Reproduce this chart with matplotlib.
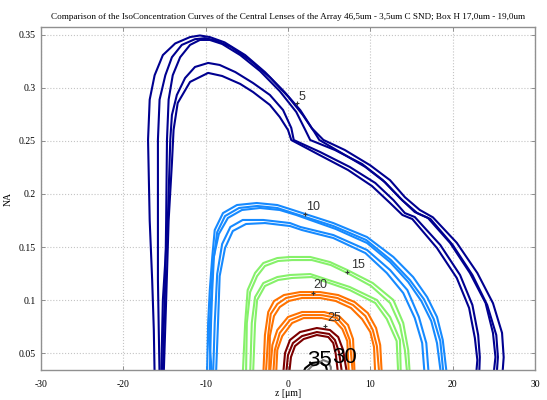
import matplotlib
matplotlib.use("Agg")
import matplotlib.pyplot as plt

title = ("Comparison of the IsoConcentration Curves of the Central Lenses of the Array "
         "46,5um - 3,5um C SND; Box H 17,0um - 19,0um")
x_ticks = [-30, -20, -10, 0, 10, 20, 30]
x_tick_labels = ["-30", "-20", "-10", "0", "10", "20", "30"]
y_ticks = [0.05, 0.1, 0.15, 0.2, 0.25, 0.3, 0.35]
y_tick_labels = ["0.05", "0.1", "0.15", "0.2", "0.25", "0.3", "0.35"]

# iso-concentration curves, (z [um], NA)
# level 5
lvl5_a = [(-16.2, 0.029), (-16.3, 0.072), (-16.5, 0.119), (-16.8, 0.175), (-17.0, 0.251),
          (-16.8, 0.289), (-16.2, 0.312), (-15.2, 0.331), (-13.7, 0.342), (-11.9, 0.348),
          (-10.7, 0.3495), (-9.5, 0.348), (-7.7, 0.343), (-5.2, 0.331), (-2.8, 0.315),
          (-0.4, 0.296), (1.5, 0.279), (2.9, 0.262), (4.3, 0.251), (6.9, 0.2415),
          (10.0, 0.227), (12.4, 0.213), (14.2, 0.197), (16.0, 0.185), (17.6, 0.178),
          (20.5, 0.154), (23.0, 0.1255), (24.9, 0.097), (26.0, 0.069), (26.2, 0.046),
          (26.0, 0.025)]
lvl5_b = [(-15.6, 0.029), (-15.7, 0.072), (-15.8, 0.119), (-15.8, 0.175), (-15.8, 0.251),
          (-15.6, 0.289), (-14.9, 0.312), (-14.1, 0.329), (-12.9, 0.3406), (-11.3, 0.346),
          (-10.1, 0.347), (-8.9, 0.345), (-7.0, 0.339), (-4.6, 0.326), (-2.2, 0.310),
          (0.0, 0.292), (1.8, 0.2745), (3.2, 0.2585), (3.8, 0.251), (6.3, 0.2396),
          (9.4, 0.2255), (11.8, 0.211), (13.9, 0.194), (15.7, 0.182), (17.3, 0.1764),
          (20.0, 0.152), (22.4, 0.1236), (24.2, 0.0953), (25.3, 0.067), (25.5, 0.0462),
          (25.3, 0.0245)]
lvl5_c = [(-15.2, 0.029), (-15.1, 0.072), (-14.9, 0.119), (-14.8, 0.175), (-14.7, 0.251),
          (-14.5, 0.289), (-14.0, 0.312), (-13.1, 0.329), (-11.9, 0.3406), (-10.7, 0.3453),
          (-9.5, 0.3453), (-8.0, 0.3415), (-5.8, 0.331), (-3.4, 0.316), (-1.0, 0.297),
          (1.0, 0.2774), (2.1, 0.2604), (2.7, 0.2509), (5.7, 0.2415), (9.0, 0.2283),
          (11.5, 0.2132), (13.6, 0.1962), (15.4, 0.183), (17.0, 0.1774), (19.7, 0.1538),
          (22.1, 0.1255), (24.0, 0.0972), (24.9, 0.0689), (25.2, 0.0462), (24.9, 0.0245)]
lvl5_d = [(-15.4, 0.029), (-15.2, 0.100), (-14.6, 0.175), (-14.3, 0.251), (-14.1, 0.2745),
          (-13.5, 0.2934), (-12.5, 0.3094), (-11.3, 0.3198), (-9.7, 0.3236), (-8.3, 0.3217),
          (-6.4, 0.315), (-4.25, 0.3047), (-2.2, 0.2934), (-0.6, 0.2792), (0.4, 0.2623),
          (0.7, 0.2509), (3.9, 0.2396), (7.5, 0.2255), (10.6, 0.2104), (12.8, 0.1943),
          (14.2, 0.182), (15.4, 0.1783), (18.5, 0.1519), (20.9, 0.1236), (22.4, 0.0953),
          (23.1, 0.067), (23.3, 0.0462), (23.2, 0.0245)]
lvl5_e = [(-15.1, 0.029), (-14.8, 0.100), (-14.5, 0.175), (-14.1, 0.2292), (-13.9, 0.2604),
          (-13.4, 0.2858), (-11.9, 0.3057), (-9.7, 0.3142), (-8.0, 0.3113), (-5.8, 0.3038),
          (-4.25, 0.2962), (-2.2, 0.284), (-1.0, 0.2726), (0.0, 0.2604), (0.4, 0.2509),
          (3.6, 0.2377), (7.3, 0.2226), (10.2, 0.2075), (12.4, 0.1915), (13.9, 0.1802),
          (15.1, 0.1764), (18.1, 0.149), (20.5, 0.1208), (22.0, 0.0925), (22.7, 0.0642),
          (23.0, 0.0434), (22.8, 0.0245)]

# level 10
lvl10_a = [(-9.84, 0.029), (-9.7, 0.0783), (-9.5, 0.1094), (-9.2, 0.1406), (-8.9, 0.166),
           (-7.9, 0.182), (-6.2, 0.1896), (-3.8, 0.1915), (-1.3, 0.1896), (0.6, 0.1849),
           (2.1, 0.1811), (5.5, 0.1726), (9.6, 0.1594), (12.8, 0.1406), (15.2, 0.1217),
           (16.9, 0.1028), (18.1, 0.084), (18.8, 0.0623), (19.3, 0.029)]
lvl10_b = [(-9.5, 0.029), (-9.35, 0.0783), (-9.2, 0.1094), (-9.0, 0.1406), (-8.6, 0.164),
           (-7.65, 0.1792), (-5.95, 0.1868), (-3.75, 0.1887), (-1.3, 0.1868), (0.6, 0.182),
           (2.1, 0.1783), (5.5, 0.1698), (9.5, 0.1566), (12.5, 0.1377), (14.8, 0.1189),
           (16.5, 0.1009), (17.7, 0.0821), (18.5, 0.0613), (18.9, 0.029)]
lvl10_c = [(-9.2, 0.029), (-9.6, 0.0623), (-9.35, 0.100), (-9.1, 0.1377), (-8.4, 0.1623),
           (-7.3, 0.1774), (-5.6, 0.1849), (-3.4, 0.1868), (-1.0, 0.1849), (1.0, 0.1802),
           (2.7, 0.1755), (5.8, 0.167), (9.6, 0.1538), (12.4, 0.1358), (14.6, 0.117),
           (16.2, 0.099), (17.4, 0.0802), (18.1, 0.0594), (18.6, 0.029)]
lvl10_d = [(-9.1, 0.029), (-8.9, 0.0783), (-8.6, 0.1245), (-8.0, 0.1528), (-7.0, 0.1689),
           (-5.5, 0.1755), (-3.0, 0.1755), (0.24, 0.1726), (1.5, 0.1689), (5.5, 0.1613),
           (9.6, 0.1472), (12.4, 0.1283), (14.5, 0.1094), (15.9, 0.084), (16.8, 0.0594),
           (17.1, 0.029)]
lvl10_e = [(-8.75, 0.029), (-8.5, 0.0783), (-8.3, 0.1226), (-7.65, 0.149), (-6.7, 0.1651),
           (-5.1, 0.1717), (-2.8, 0.1726), (0.24, 0.1698), (1.7, 0.166), (5.5, 0.1585),
           (9.4, 0.1443), (12.0, 0.1255), (14.0, 0.1066), (15.4, 0.083), (16.3, 0.0594),
           (16.6, 0.029)]

# level 15
lvl15_a = [(-5.5, 0.029), (-5.2, 0.0783), (-4.9, 0.1094), (-4.0, 0.1255), (-3.0, 0.1349),
           (-1.3, 0.1396), (0.24, 0.1406), (2.7, 0.1406), (5.1, 0.1358), (7.2, 0.1283),
           (10.3, 0.116), (12.8, 0.100), (14.0, 0.0783), (14.6, 0.0528), (14.8, 0.029)]
lvl15_b = [(-5.1, 0.029), (-5.0, 0.0783), (-4.6, 0.1075), (-3.75, 0.1226), (-2.8, 0.1321),
           (-1.2, 0.1368), (0.5, 0.1377), (2.9, 0.1377), (5.2, 0.133), (7.2, 0.1255),
           (10.1, 0.1132), (12.4, 0.0972), (13.6, 0.0764), (14.2, 0.0528), (14.5, 0.029)]
lvl15_c = [(-4.6, 0.029), (-4.4, 0.0783), (-4.0, 0.1028), (-3.0, 0.116), (-1.3, 0.1217),
           (0.24, 0.1236), (2.7, 0.1245), (7.5, 0.1123), (10.8, 0.100), (12.4, 0.084),
           (13.6, 0.0623), (13.7, 0.029)]
lvl15_d = [(-4.25, 0.029), (-4.0, 0.0783), (-3.75, 0.100), (-2.8, 0.1132), (-1.2, 0.1189),
           (0.5, 0.1208), (2.9, 0.1217), (7.5, 0.1094), (10.6, 0.0972), (12.0, 0.0821),
           (13.2, 0.0613), (13.4, 0.029)]

# level 20
lvl20_a = [(-3.0, 0.029), (-2.8, 0.067), (-2.4, 0.0887), (-1.7, 0.099), (-0.5, 0.1047),
           (1.46, 0.1075), (3.9, 0.1075), (6.1, 0.1047), (8.1, 0.0981), (9.7, 0.0877),
           (10.7, 0.0736), (11.2, 0.0575), (11.4, 0.029)]
lvl20_b = [(-2.7, 0.029), (-2.4, 0.067), (-2.1, 0.0868), (-1.3, 0.0962), (-0.24, 0.1019),
           (1.46, 0.1047), (3.9, 0.1047), (6.0, 0.1019), (7.9, 0.0953), (9.4, 0.0849),
           (10.3, 0.0717), (10.8, 0.0566), (11.1, 0.029)]
lvl20_c = [(-2.3, 0.029), (-2.2, 0.066), (-1.7, 0.0849), (-1.0, 0.0934), (0.1, 0.0991),
           (1.7, 0.1019), (3.9, 0.1019), (5.8, 0.0991), (7.65, 0.0925), (9.0, 0.082),
           (10.0, 0.0698), (10.45, 0.0557), (10.6, 0.029)]

# level 25
lvl25_a = [(-2.2, 0.029), (-1.9, 0.0575), (-1.3, 0.0717), (0.0, 0.084), (1.7, 0.0887),
           (4.4, 0.0887), (6.2, 0.0849), (7.3, 0.0764), (7.9, 0.0632), (8.1, 0.029)]
lvl25_b = [(-1.8, 0.029), (-1.6, 0.0528), (-1.0, 0.0689), (0.24, 0.0811), (1.8, 0.0858),
           (4.25, 0.0858), (5.95, 0.083), (6.9, 0.0745), (7.5, 0.0623), (7.9, 0.029)]
lvl25_c = [(-1.45, 0.029), (-1.3, 0.0528), (-0.7, 0.066), (0.5, 0.0783), (1.9, 0.083),
           (4.1, 0.083), (5.7, 0.0802), (6.6, 0.0726), (7.2, 0.0613), (7.4, 0.029)]

# level 30
lvl30_a = [(-0.6, 0.029), (-0.36, 0.050), (0.24, 0.0623), (1.46, 0.0698), (3.5, 0.0736),
           (5.1, 0.0717), (6.1, 0.0651), (6.7, 0.0528), (7.2, 0.029)]
lvl30_b = [(-0.24, 0.029), (0.0, 0.0481), (0.6, 0.0594), (1.7, 0.066), (3.5, 0.0698),
           (5.0, 0.068), (5.7, 0.0623), (6.2, 0.0509), (6.6, 0.029)]
lvl30_c = [(0.12, 0.029), (0.36, 0.0462), (0.85, 0.0566), (1.9, 0.0632), (3.5, 0.067),
           (4.9, 0.0651), (5.5, 0.0594), (5.8, 0.049), (6.1, 0.029)]

# level 35 (small arcs at the bottom)
lvl35_a = [(1.7, 0.029), (2.1, 0.0358), (2.9, 0.0406), (3.9, 0.0415), (4.6, 0.0377),
           (4.9, 0.029)]
lvl35_b = [(2.2, 0.0321), (2.9, 0.0377), (3.6, 0.0396), (4.25, 0.0434), (4.9, 0.0415),
           (5.2, 0.0368), (5.2, 0.029)]

navy, azure, green, orange, darkred = "#000090", "#168aff", "#86f16a", "#ff7200", "#7c0000"

curves = [
    (lvl5_a, navy), (lvl5_b, navy), (lvl5_c, navy), (lvl5_d, navy), (lvl5_e, navy),
    (lvl10_a, azure), (lvl10_b, azure), (lvl10_c, azure), (lvl10_d, azure), (lvl10_e, azure),
    (lvl15_a, green), (lvl15_b, green), (lvl15_c, green), (lvl15_d, green),
    (lvl20_a, orange), (lvl20_b, orange), (lvl20_c, orange),
    (lvl25_a, orange), (lvl25_b, orange), (lvl25_c, orange),
    (lvl30_a, darkred), (lvl30_b, darkred), (lvl30_c, darkred),
    (lvl35_a, "black"), (lvl35_b, "#7a7a7a"),
]

# contour labels: text, text position, marker position
label_text = ["5", "10", "15", "20", "25"]
label_pos = [(1.7, 0.2915), (3.1, 0.1877), (8.5, 0.133), (3.9, 0.114), (5.6, 0.083)]
label_mark = [(1.1, 0.286), (2.1, 0.181), (7.2, 0.1264), (3.0, 0.1066), (4.5, 0.0755)]
big_text = ["35", "30"]
big_pos = [(3.8, 0.0425), (6.9, 0.0455)]

fig = plt.figure(figsize=(5.47, 4.0), dpi=100)
ax = fig.add_axes([0.075, 0.075, 0.903, 0.8575])

for pts, col in curves:
    zs = [p[0] for p in pts]
    nas = [p[1] for p in pts]
    ax.plot(zs, nas, color=col, lw=1.5, solid_joinstyle="round")

for txt, (lx, ly), (mx, my) in zip(label_text, label_pos, label_mark):
    ax.plot(mx, my, marker="+", ms=2.5, mew=0.8, color="#333333")
    ax.text(lx, ly, txt, ha="center", va="center", fontsize=9,
            family="Liberation Sans", color="#333333")
for txt, (lx, ly) in zip(big_text, big_pos):
    ax.text(lx, ly, txt, ha="center", va="center", fontsize=16,
            family="Liberation Sans", color="black")

ax.set_xlim(-30, 30)
ax.set_ylim(0.034, 0.3575)
ax.set_xticks(x_ticks)
ax.set_xticklabels(x_tick_labels)
ax.set_yticks(y_ticks)
ax.set_yticklabels(y_tick_labels)
ax.grid(True, linestyle=":", color="#c4c4c4", lw=0.8)
ax.tick_params(direction="in", length=3, width=0.6, color="#808080",
               top=True, right=True, labelsize=7)
ax.tick_params(axis="x", pad=7)
ax.tick_params(axis="y", pad=4)
for lab in ax.get_xticklabels() + ax.get_yticklabels():
    lab.set_family("Liberation Serif")
for sp in ax.spines.values():
    sp.set_color("#909090")
    sp.set_linewidth(1.0)

ax.set_xlabel("z [μm]", fontsize=7, family="Liberation Serif", labelpad=0)
ax.set_ylabel("NA", fontsize=7, family="Liberation Serif", labelpad=4)
ax.set_title(title, fontsize=6.6, family="Liberation Serif", pad=6)

fig.savefig("out.png", dpi=100)
